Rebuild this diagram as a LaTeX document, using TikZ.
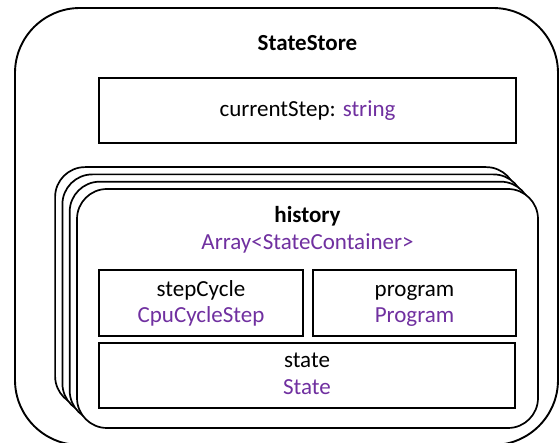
\documentclass[tikz,border=0pt]{standalone}
\usepackage{fontspec}
\setmainfont{Carlito}
\definecolor{typepurple}{RGB}{112,48,160}
\begin{document}
\begin{tikzpicture}[x=1pt,y=-1pt,
  every node/.style={inner sep=0pt, outer sep=0pt},
  txt/.style={anchor=base, font=\fontsize{23}{27}\selectfont},
  typetxt/.style={txt, text=typepurple},
  field/.style={draw, line width=1.3pt, fill=white, rectangle},
  layer/.style={draw, line width=1.7pt, fill=white, rectangle, rounded corners=30pt,
    minimum width=461pt, minimum height=239pt},
  storebox/.style={draw, line width=1.9pt, rectangle, rounded corners=65pt}]
\useasboundingbox (0,0) rectangle (560,443);

% outer store container
\node[storebox, minimum width=543pt, minimum height=437pt] (store) at (286.5,226.5) {};
\node[txt, font=\fontsize{23}{27}\selectfont\bfseries] (storename) at (307.5,51) {StateStore};

% currentStep field
\node[field, minimum width=417pt, minimum height=65pt] (cur) at (307.5,110.5) {};
\node[txt] (curlabel) at (307.5,117) {currentStep: \textcolor{typepurple}{string}};

% stacked history containers, back to front
\node[layer] (hist3) at (285.6,286.6) {};
\node[layer] (hist2) at (292.9,293.9) {};
\node[layer] (hist1) at (300.2,301.2) {};
\node[layer] (hist) at (307.5,308.5) {};
\node[txt, font=\fontsize{23}{27}\selectfont\bfseries] (histname) at (307.5,223) {history};
\node[typetxt] (histtype) at (307.5,250) {Array<StateContainer>};

% fields of a state container
\node[field, minimum width=204pt, minimum height=66pt] (cycle) at (201,303) {};
\node[txt] (cyclename) at (201,297) {stepCycle};
\node[typetxt] (cycletype) at (201,323) {CpuCycleStep};

\node[field, minimum width=203pt, minimum height=66pt] (prog) at (414.5,303) {};
\node[txt] (progname) at (414.5,297) {program};
\node[typetxt] (progtype) at (414.5,323) {Program};

\node[field, minimum width=416pt, minimum height=65pt] (state) at (307,375.5) {};
\node[txt] (statename) at (307,368) {state};
\node[typetxt] (statetype) at (307,395) {State};
\end{tikzpicture}
\end{document}
